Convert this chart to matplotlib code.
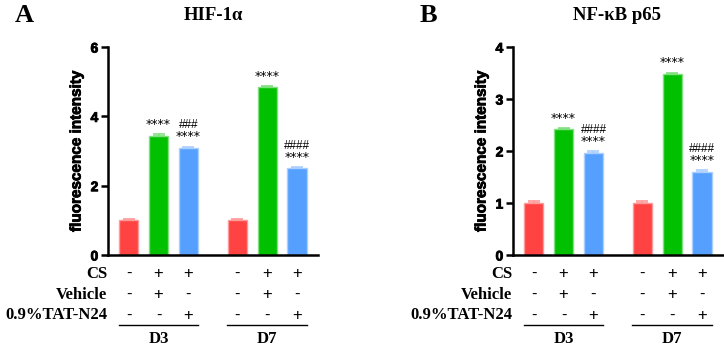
import matplotlib.pyplot as plt
import matplotlib.patheffects as pe

# data
groups = ['D3', 'D7']
hif_means = [1.00, 3.43, 3.09, 1.00, 4.84, 2.50]
hif_err = [0.05, 0.05, 0.04, 0.05, 0.04, 0.04]
nfkb_means = [1.00, 2.42, 1.97, 1.00, 3.49, 1.60]
nfkb_err = [0.04, 0.03, 0.03, 0.04, 0.02, 0.04]
stars = ['', '****', '****', '', '****', '****']
hif_hash = ['', '', '###', '', '', '####']
nfkb_hash = ['', '', '####', '', '', '####']
row_names = ['CS', 'Vehicle', '0.9%TAT-N24']
signs = [['-', '+', '+', '-', '+', '+'],
         ['-', '+', '-', '-', '+', '-'],
         ['-', '-', '+', '-', '-', '+']]

colors = ['#FF4242', '#00C000', '#55A0FF'] * 2
edges = ['#FF9A9A', '#80E080', '#AACFFF'] * 2
xpos = [0, 1, 2, 3.63, 4.63, 5.63]

serif = 'Liberation Serif'
sans = 'Liberation Sans'
thick = [pe.withStroke(linewidth=0.6, foreground='black')]

fig = plt.figure(figsize=(7.24, 3.46), dpi=100)


def panel(left, means, errs, hashes, ymax, step, letter, title, letter_x, title_x):
    ax = fig.add_axes([left, 0.263, 210 / 724, 0.601])
    ax.bar(xpos, means, width=0.64, color=colors, edgecolor=edges, linewidth=1.0, zorder=2)
    for x, m, e, c in zip(xpos, means, errs, edges):
        ax.errorbar(x, m, yerr=[[0], [e]], fmt='none', ecolor=c, elinewidth=1.2,
                    capsize=4, capthick=1.2, zorder=3)
    ax.set_xlim(-0.69, 6.33)
    ax.set_ylim(0, ymax)
    ax.set_yticks([i * step for i in range(int(ymax / step) + 1)])
    ax.set_xticks([])
    for s in ['top', 'right']:
        ax.spines[s].set_visible(False)
    ax.spines['left'].set_linewidth(1.8)
    ax.spines['bottom'].set_linewidth(1.8)
    ax.tick_params(axis='y', width=1.8, length=5, pad=2)
    for lab in ax.get_yticklabels():
        lab.set_fontfamily(sans)
        lab.set_fontweight(700)
        lab.set_fontsize(10)
        lab.set_path_effects(thick)
    ax.set_ylabel('fluorescence intensity', fontfamily=sans, fontweight=700,
                  fontsize=11, labelpad=5, path_effects=thick)
    off = ymax * 0.015
    for x, m, e, s, h in zip(xpos, means, errs, stars, hashes):
        if h:
            ax.text(x, m + e + off, s, ha='center', va='bottom', fontsize=9,
                    fontfamily='DejaVu Sans')
            ax.text(x, m + e + off + ymax * 0.058, h, ha='center', va='bottom',
                    fontsize=8.5, fontfamily=sans)
        elif s:
            ax.text(x, m + e + off, s, ha='center', va='bottom', fontsize=9,
                    fontfamily='DejaVu Sans')
    # sign table
    row_y = [-0.09, -0.19, -0.29]
    for name, sg, y in zip(row_names, signs, row_y):
        ax.text(-0.72, y, name, transform=ax.get_xaxis_transform(), ha='right',
                va='center', fontfamily=serif, fontweight='bold', fontsize=12,
                clip_on=False)
        for x, t in zip(xpos, sg):
            ax.text(x, y, t, transform=ax.get_xaxis_transform(), ha='center',
                    va='center', fontfamily=sans, fontsize=12, clip_on=False)
    for i, g in enumerate(groups):
        x0 = xpos[i * 3] - 0.33
        x1 = xpos[i * 3 + 2] + 0.33
        ax.plot([x0, x1], [-0.337, -0.337], color='black', lw=1.0,
                transform=ax.get_xaxis_transform(), clip_on=False)
        ax.text((x0 + x1) / 2, -0.405, g, transform=ax.get_xaxis_transform(),
                ha='center', va='center', fontfamily=serif, fontweight='bold',
                fontsize=12, clip_on=False)
    fig.text(letter_x / 724, 1 - 16 / 346, letter, ha='center', va='center',
             fontfamily=serif, fontweight='bold', fontsize=19)
    fig.text(title_x / 724, 1 - 15 / 346, title, ha='center', va='center',
             fontfamily=serif, fontweight='bold', fontsize=13.5)
    return ax


panel(108 / 724, hif_means, hif_err, hif_hash, 6, 2, 'A', 'HIF-1α', 24, 213)
panel(513 / 724, nfkb_means, nfkb_err, nfkb_hash, 4, 1, 'B', 'NF-κB p65', 428, 617)

fig.savefig('out.png', dpi=100)
